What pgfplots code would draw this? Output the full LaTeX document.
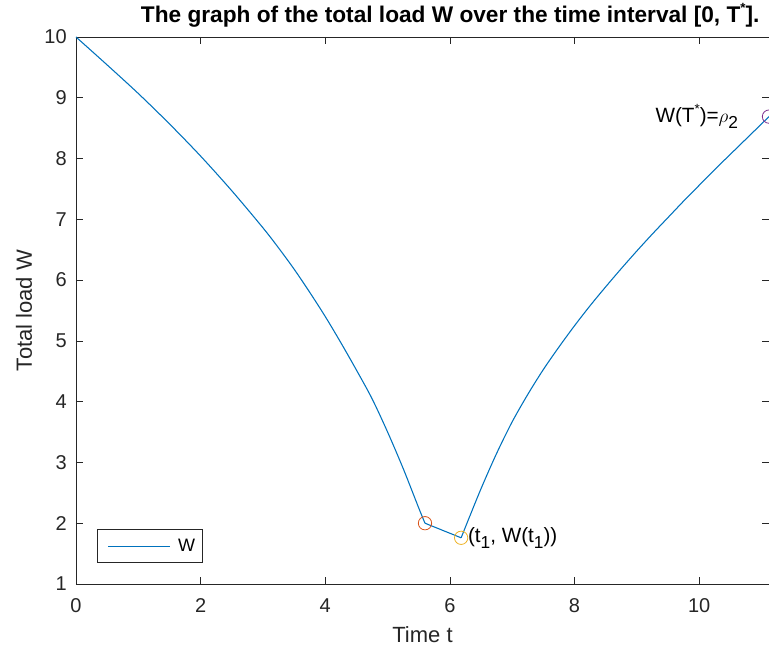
\documentclass[border=0pt]{standalone}
\usepackage{fontspec}
\setmainfont{Liberation Sans}
\usepackage{pgfplots}
\pgfplotsset{compat=1.18}
\definecolor{mlblue}{rgb}{0,0.447,0.741}
\definecolor{mlorange}{rgb}{0.85,0.325,0.098}
\definecolor{mlyellow}{rgb}{0.929,0.694,0.125}
\definecolor{mlpurple}{rgb}{0.494,0.184,0.556}
\definecolor{mlaxis}{rgb}{0.15,0.15,0.15}
\newcommand{\mlsub}[1]{\raisebox{-0.6ex}{\fontsize{13}{15}\selectfont #1}}
\newcommand{\mlsup}[1]{\raisebox{0.8ex}{\fontsize{10}{12}\selectfont #1}}

\begin{document}
\begin{tikzpicture}[x=1pt,y=1pt]
\useasboundingbox (-57,-53.25) rectangle (519.75,438);
\begin{axis}[
    at={(0,0)}, anchor=south west,
    scale only axis,
    width=519.75pt, height=410.25pt,
    xmin=0, xmax=11.12, ymin=1, ymax=10,
    xtick={0,2,...,10}, ytick={1,2,...,10},
    tick align=inside, major tick length=5pt,
    axis line style={mlaxis, line width=0.5pt},
    every tick/.style={mlaxis, line width=0.5pt},
    /pgf/number format/assume math mode=true,
    tick label style={font=\fontsize{15}{18}\selectfont, text=mlaxis, inner sep=0pt},
    xticklabel style={anchor=center, yshift=-16.5pt},
    yticklabel style={anchor=east, xshift=-6.75pt},
    xlabel={Time t}, ylabel={Total load W},
    label style={font=\fontsize{16.5}{19}\selectfont, text=mlaxis, inner sep=0pt},
    xlabel style={at={(axis description cs:0.5,-0.0926)}, anchor=center},
    ylabel style={at={(axis description cs:-0.075,0.5)}, anchor=center},
    title={The graph of the total load W over the time interval [0, T\mlsup{*}].},
    title style={font=\fontsize{17}{20}\selectfont\bfseries, at={(axis description cs:0.54,1)}, anchor=base, yshift=5pt, inner sep=0pt},
    legend style={at={(axis description cs:0.0303,0.0384)}, anchor=south west,
        draw=mlaxis, line width=0.5pt, font=\fontsize{13.5}{16}\selectfont,
        inner xsep=3.25pt, inner ysep=5pt, nodes={inner sep=2pt}},
    legend image code/.code={\path (-4.5pt,0pt); \draw[#1] (0pt,0pt) -- (46.5pt,0pt); \path (50pt,0pt);},
    clip=false,
]
% first branch: W decreasing
\addplot[mlblue, line width=0.8pt, smooth, tension=0.5] coordinates {
    (0,10) (0.5,9.54) (1.0,9.07) (1.5,8.57) (2.0,8.04) (2.5,7.47) (3.0,6.86)
    (3.25,6.53) (3.5,6.18) (3.75,5.80) (4.0,5.40) (4.25,4.97) (4.5,4.52)
    (4.75,4.05) (5.0,3.50) (5.25,2.90) (5.5,2.25) (5.6,2.00)
};
\addlegendentry{W}
% short straight piece up to t1
\addplot[mlblue, line width=0.8pt, forget plot] coordinates {(5.6,2.00) (6.18,1.76)};
% second branch: W increasing up to T*
\addplot[mlblue, line width=0.8pt, smooth, tension=0.5, forget plot] coordinates {
    (6.18,1.76) (6.25,1.94) (6.5,2.57) (6.75,3.15) (7.0,3.67) (7.25,4.12)
    (7.5,4.53) (7.75,4.90) (8.0,5.25) (8.25,5.58) (8.5,5.89) (8.75,6.19)
    (9.0,6.48) (9.25,6.76) (9.5,7.03) (9.75,7.30) (10.0,7.56) (10.25,7.82)
    (10.5,8.07) (10.75,8.32) (11.0,8.57) (11.12,8.69)
};
% marked points
\addplot[only marks, mark=o, mark size=5pt, mlorange, mark options={line width=0.6pt}, forget plot] coordinates {(5.6,2.00)};
\addplot[only marks, mark=o, mark size=5pt, mlyellow, mark options={line width=0.6pt}, forget plot] coordinates {(6.18,1.76)};
\addplot[only marks, mark=o, mark size=5pt, mlpurple, mark options={line width=0.6pt}, forget plot] coordinates {(11.12,8.69)};

\node[anchor=west, inner sep=0pt, xshift=5pt, font=\fontsize{15.5}{18}\selectfont]
    at (axis cs:6.18,1.76) {(t\mlsub{1}, W(t\mlsub{1}))};
\node[anchor=east, inner sep=0pt, xshift=-23pt, font=\fontsize{15.5}{18}\selectfont]
    at (axis cs:11.12,8.69) {W(T\mlsup{*})=$\rho$\mlsub{2}};
\end{axis}
\end{tikzpicture}
\end{document}
